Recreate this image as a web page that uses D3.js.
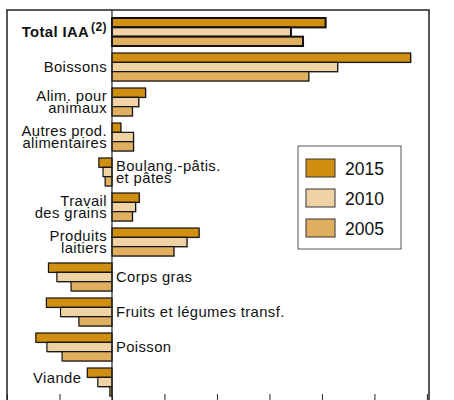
<html>
<head>
	<meta charset="utf-8">
	<title>IAA</title>
	<style>
		body { margin: 0; background: white; }
		text { font-family: "Liberation Sans", Arial, sans-serif; }
	</style>
</head>
<body>
	<div id="chart"></div>
	<script src="https://d3js.org/d3.v7.min.js" charset="utf-8"></script>
	<script>
	// categories, top to bottom (each label split in lines)
	var categories = ["Total IAA", "Boissons", "Alim. pour animaux", "Autres prod. alimentaires",
		"Boulang.-pâtis. et pâtes", "Travail des grains", "Produits laitiers", "Corps gras",
		"Fruits et légumes transf.", "Poisson", "Viande"];
	var labelLines = [["Total IAA"], ["Boissons"], ["Alim. pour", "animaux"], ["Autres prod.", "alimentaires"],
		["Boulang.-pâtis.", "et pâtes"], ["Travail", "des grains"], ["Produits", "laitiers"], ["Corps gras"],
		["Fruits et légumes transf."], ["Poisson"], ["Viande"]];
	var years = ["2015", "2010", "2005"];
	var values2015 = [4.07, 5.69, 0.64, 0.17, -0.25, 0.52, 1.66, -1.21, -1.25, -1.45, -0.47];
	var values2010 = [3.41, 4.30, 0.51, 0.41, -0.17, 0.45, 1.43, -1.05, -0.98, -1.24, -0.27];
	var values2005 = [3.64, 3.75, 0.39, 0.41, -0.13, 0.39, 1.18, -0.78, -0.63, -0.95, -0.04];
	var tickValues = [-2, -1, 0, 1, 2, 3, 4, 5, 6];

	var colors = { "2015": "#d18f12", "2010": "#efd3a5", "2005": "#e0af5f" };
	var series = { "2015": values2015, "2010": values2010, "2005": values2005 };

	var svg = d3.select("#chart").append("svg").attr("width", 454).attr("height", 400);

	var x = d3.scaleLinear().domain([-2, 6.04]).range([7, 429]);
	var y = d3.scaleBand().domain(categories).range([10, 404]).paddingInner(0.2).paddingOuter(0.2286);
	var yy = d3.scaleBand().domain(years).range([0, y.bandwidth()]);

	// frame
	svg.append("rect")
		.attr("x", x.range()[0]).attr("y", 10)
		.attr("width", x.range()[1] - x.range()[0]).attr("height", 394)
		.attr("fill", "white").attr("stroke", "#222").attr("stroke-width", 1.5);

	// bottom ticks (pointing up)
	svg.append("g")
		.attr("transform", "translate(0,404)")
		.call(d3.axisBottom(x).tickValues(tickValues).tickSize(-10).tickFormat(""))
		.call(function(g) { g.select(".domain").remove(); })
		.selectAll("line").attr("stroke", "#222");

	// bars
	categories.forEach(function(cat, i) {
		var g = svg.append("g").attr("transform", "translate(0," + y(cat) + ")");
		years.forEach(function(yr) {
			var v = series[yr][i];
			var x0 = Math.min(x(0), x(v));
			var w = Math.abs(x(v) - x(0));
			g.append("rect")
				.attr("x", x0 + 1).attr("y", yy(yr) + 1)
				.attr("width", w).attr("height", yy.bandwidth())
				.attr("fill", "#999").attr("opacity", 0.6);
			g.append("rect")
				.attr("x", x0).attr("y", yy(yr))
				.attr("width", w).attr("height", yy.bandwidth())
				.attr("fill", colors[yr])
				.attr("stroke", "#111")
				.attr("stroke-width", i === 0 ? 2 : 1.2);
		});
	});

	// zero line
	svg.append("line")
		.attr("x1", x(0)).attr("x2", x(0))
		.attr("y1", 10).attr("y2", 404)
		.attr("stroke", "#222").attr("stroke-width", 1.2);

	// category labels
	categories.forEach(function(cat, i) {
		var cy = y(cat) + y.bandwidth() / 2;
		var vals = years.map(function(yr) { return series[yr][i]; });
		var allNeg = d3.max(vals) <= 0;
		var tx, anchor;
		if (cat === "Viande") {
			tx = x(d3.min(vals)) - 6; anchor = "end";
			cy = cy - 4;
		} else if (allNeg) {
			tx = x(0) + 4; anchor = "start";
		} else {
			tx = x(0) - 5; anchor = "end";
		}
		var lines = labelLines[i];
		var t = svg.append("text")
			.attr("text-anchor", anchor)
			.attr("font-size", "14.8px")
			.attr("letter-spacing", "0.4px")
			.attr("fill", "#111");
		if (i === 0) {
			t.attr("x", tx).attr("y", cy + 5).attr("font-weight", "bold");
			t.append("tspan").text(lines[0]);
			t.append("tspan").attr("font-size", "12px").attr("dy", -6).attr("dx", 2).text("(2)");
			return;
		}
		lines.forEach(function(line, k) {
			var base = cy + 5 + (k - (lines.length - 1) / 2) * 12.8;
			t.append("tspan").attr("x", tx).attr("y", base).text(line);
		});
	});

	// legend
	var legend = svg.append("g").attr("transform", "translate(298,146)");
	legend.append("rect")
		.attr("width", 103).attr("height", 103)
		.attr("fill", "white").attr("stroke", "#555").attr("stroke-width", 1);
	years.forEach(function(yr, k) {
		var row = legend.append("g").attr("transform", "translate(0," + (13 + k * 30) + ")");
		row.append("rect")
			.attr("x", 8).attr("width", 29).attr("height", 18)
			.attr("fill", colors[yr]).attr("stroke", "#333").attr("stroke-width", 1);
		row.append("text")
			.attr("x", 47).attr("y", 16)
			.attr("font-size", "17.5px").attr("fill", "#111")
			.text(yr);
	});
	</script>
</body>
</html>
